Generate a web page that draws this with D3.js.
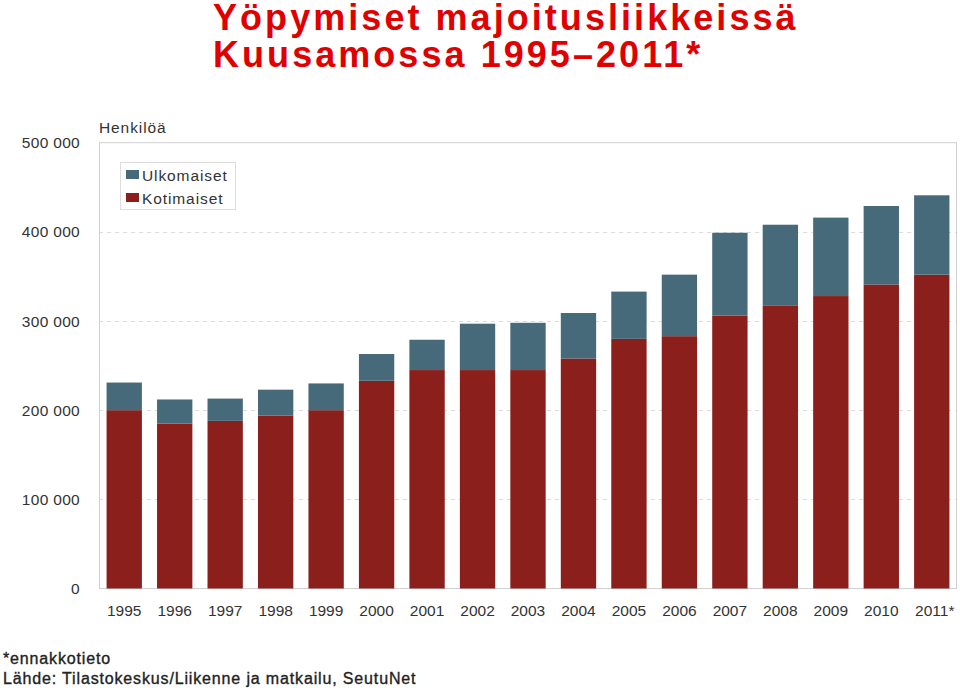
<!DOCTYPE html>
<html><head><meta charset="utf-8">
<script src="https://cdn.jsdelivr.net/npm/d3@7"></script>
<style>body{margin:0;background:#fff}svg{display:block}</style>
</head><body>
<script>
const years = ["1995","1996","1997","1998","1999","2000","2001","2002","2003","2004","2005","2006","2007","2008","2009","2010","2011*"];
const kotimaiset = [200000,185000,188000,194000,200000,233000,245000,245000,245000,258000,280000,283000,306000,317000,328000,341000,352000];
const ulkomaiset = [31000,27000,25000,29000,30000,30000,34000,52000,53000,51000,53000,69000,93000,91000,88000,88000,89000];
const yTicks = [0,100000,200000,300000,400000,500000];
const seriesNames = ["Ulkomaiset","Kotimaiset"];
const colors = {Kotimaiset:"#8a1f1b", Ulkomaiset:"#466a7a"};
const titleLines = ["Yöpymiset majoitusliikkeissä","Kuusamossa 1995–2011*"];
const footLines = ["*ennakkotieto","Lähde: Tilastokeskus/Liikenne ja matkailu, SeutuNet"];

const W=960,H=688;
const svg=d3.select("body").append("svg").attr("width",W).attr("height",H);
const font="'Liberation Sans', Arial, sans-serif";
const L=99,R=957,T=142.7,B=588.5;

const x=d3.scaleBand().domain(years).range([L,R]).paddingInner(0.3).paddingOuter(0.15);
const y=d3.scaleLinear().domain([0,500000]).range([B,T]);

// title
svg.append("g").selectAll("text").data(titleLines).join("text")
  .attr("x",213).attr("y",(d,i)=>29.5+i*37)
  .attr("font-family",font).attr("font-weight","bold").attr("font-size",36)
  .attr("letter-spacing",3.05).attr("fill","#e00000").text(d=>d);

// gridlines
svg.append("g").selectAll("line").data(yTicks.filter(t=>t>0&&t<500000)).join("line")
  .attr("x1",L).attr("x2",R).attr("y1",d=>Math.round(y(d))+0.5).attr("y2",d=>Math.round(y(d))+0.5)
  .attr("stroke","#dcdcdc").attr("stroke-dasharray","4,4");

// frame
svg.append("rect").attr("x",L+0.5).attr("y",T).attr("width",R-L-1).attr("height",B-T)
  .attr("fill","none").attr("stroke","#d0d0d0");

// stacked data
const rows=years.map((yr,i)=>({year:yr,Kotimaiset:kotimaiset[i],Ulkomaiset:ulkomaiset[i]}));
const stack=d3.stack().keys(["Kotimaiset","Ulkomaiset"])(rows);
svg.append("g").selectAll("g").data(stack).join("g").attr("fill",d=>colors[d.key])
  .selectAll("rect").data(d=>d).join("rect")
  .attr("x",d=>x(d.data.year)).attr("width",x.bandwidth())
  .attr("y",d=>y(d[1])).attr("height",d=>y(d[0])-y(d[1]));

// y axis labels
svg.append("g").selectAll("text").data(yTicks).join("text")
  .attr("x",80).attr("y",d=>y(d)+5.5).attr("text-anchor","end")
  .attr("font-family",font).attr("font-size",15.5).attr("letter-spacing",0.3).attr("fill","#333")
  .text(d=>d===0?"0":d3.format(",")(d).replace(/,/g," "));

svg.append("text").attr("x",99).attr("y",133).attr("font-family",font).attr("font-size",15.5)
  .attr("letter-spacing",0.9).attr("fill","#333").text("Henkilöä");

// x labels
svg.append("g").selectAll("text").data(years).join("text")
  .attr("x",d=>x(d)+x.bandwidth()/2+(d.endsWith("*")?3:0)).attr("y",616).attr("text-anchor","middle")
  .attr("font-family",font).attr("font-size",15.5).attr("fill","#333").text(d=>d);

// legend
const lg=svg.append("g");
lg.append("rect").attr("x",120.5).attr("y",162.5).attr("width",115).attr("height",47)
  .attr("fill","#fff").attr("stroke","#ddd");
seriesNames.forEach((s,i)=>{
  lg.append("rect").attr("x",126).attr("y",170+i*23).attr("width",13).attr("height",9).attr("fill",colors[s]);
  lg.append("text").attr("x",142).attr("y",180.5+i*23).attr("font-family",font).attr("font-size",15.5)
    .attr("letter-spacing",0.9).attr("fill","#333").text(s);
});

// footer
svg.append("g").selectAll("text").data(footLines).join("text")
  .attr("x",3).attr("y",(d,i)=>664+i*20).attr("font-family",font).attr("font-size",16)
  .attr("letter-spacing",0.85).attr("stroke","#222").attr("stroke-width",0.35)
  .attr("fill","#222").text(d=>d);
</script>
</body></html>
